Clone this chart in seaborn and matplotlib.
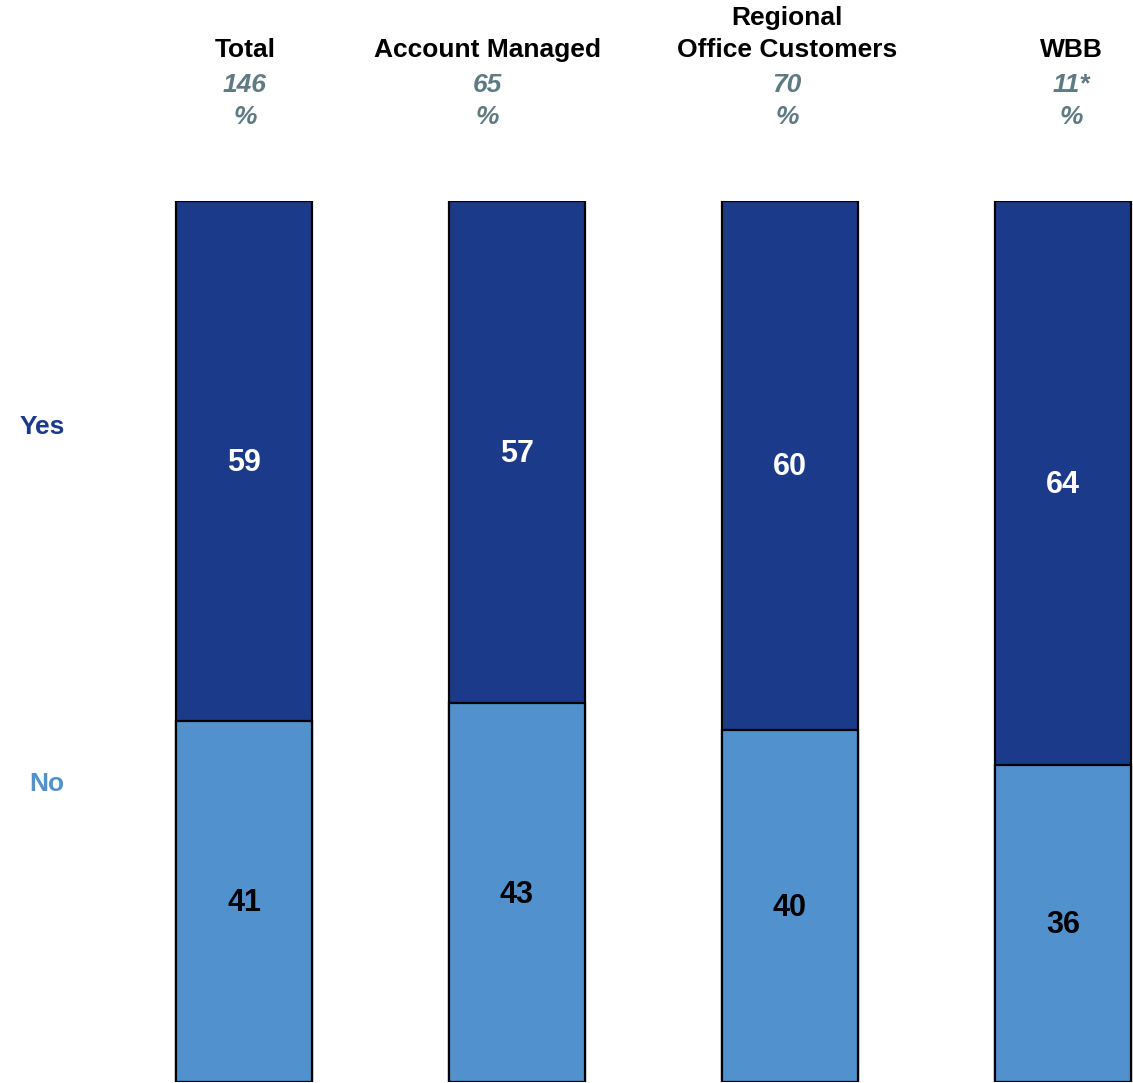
import matplotlib
matplotlib.use("Agg")
import matplotlib.pyplot as plt
import seaborn as sns
import pandas as pd
from matplotlib import font_manager

categories = ["Total", "Account Managed", "Regional\nOffice Customers", "WBB"]
base_sizes = ["146", "65", "70", "11*"]
yes_values = [59, 57, 60, 64]
no_values = [41, 43, 40, 36]
series_labels = ["Yes", "No"]

DARK = "#1B3A8A"
LIGHT = "#5192CE"
GREY = "#5E7A82"

sns.set_theme(style="white")
plt.rcParams["font.family"] = ["Liberation Sans", "DejaVu Sans"]

installed = {f.name for f in font_manager.fontManager.ttflist}
narrow = "Liberation Sans Narrow" if "Liberation Sans Narrow" in installed else "Liberation Sans"

df = pd.DataFrame({
    "category": categories,
    "yes": yes_values,
    "no": no_values,
})
df["stack_top"] = df["yes"] + df["no"]

W, H = 1133, 1083
fig = plt.figure(figsize=(W / 100, H / 100), dpi=100)
# bar area runs from y=201 px (top) to y=1082 px (bottom)
ax = fig.add_axes([0, (H - 1082) / H, 1, (1082 - 201) / H])

sns.barplot(data=df, x="category", y="stack_top", color=DARK, width=0.5,
            edgecolor="black", linewidth=1.6, saturation=1, ax=ax)
sns.barplot(data=df, x="category", y="no", color=LIGHT, width=0.5,
            edgecolor="black", linewidth=1.6, saturation=1, ax=ax)

unit = 273.0
ax.set_xlim(-244 / unit, (W - 244) / unit)
ax.set_ylim(0, 100)
ax.axis("off")

px = 100 / (1082 - 201)  # data units per pixel
for i, (y, n) in enumerate(zip(yes_values, no_values)):
    ax.text(i, n + y / 2 - 2 * px, f"{y}", ha="center", va="center", color="white",
            fontsize=22, fontweight="bold", family=narrow)
    ax.text(i, n / 2 - 2 * px, f"{n}", ha="center", va="center", color="black",
            fontsize=22, fontweight="bold", family=narrow)

# column headers
header_x = [245, 487, 787, 1071]
for hx, cat, base in zip(header_x, categories, base_sizes):
    xf = hx / W
    lines = cat.split("\n")
    y0 = 50
    for k, line in enumerate(reversed(lines)):
        fig.text(xf, 1 - (y0 - 32 * k) / H, line, ha="center", va="center",
                 fontsize=19, fontweight="bold", color="black")
    fig.text(xf, 1 - 85 / H, base, ha="center", va="center", fontsize=19,
             fontweight="bold", fontstyle="italic", color=GREY)
    fig.text(xf, 1 - 117 / H, "%", ha="center", va="center", fontsize=19,
             fontweight="bold", fontstyle="italic", color=GREY)

# series labels on the left
fig.text(42 / W, 1 - 427 / H, series_labels[0], ha="center", va="center",
         fontsize=19, fontweight="bold", color=DARK)
fig.text(47 / W, 1 - 784 / H, series_labels[1], ha="center", va="center",
         fontsize=19, fontweight="bold", color=LIGHT)

fig.savefig("out.png", dpi=100)
